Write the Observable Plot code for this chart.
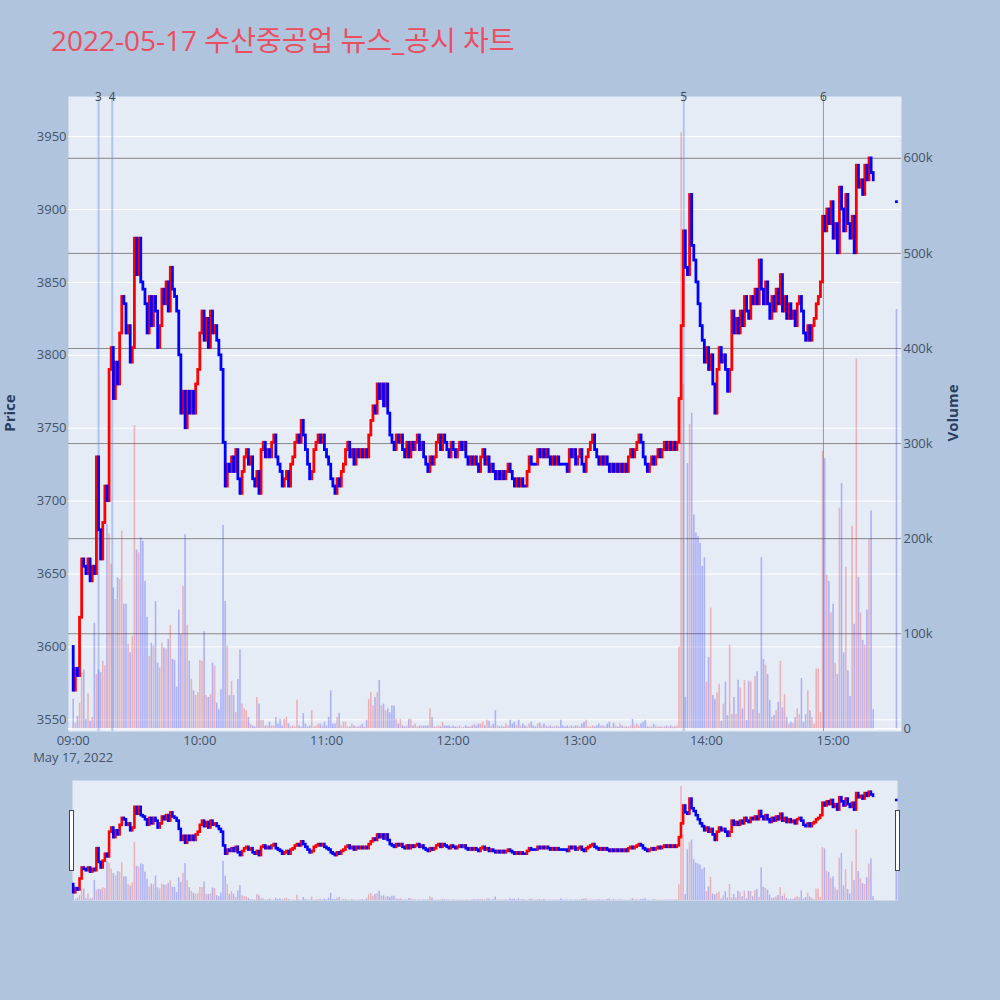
<!DOCTYPE html>
<html>
<head>
<meta charset="utf-8">
<script src="https://cdn.jsdelivr.net/npm/d3@7"></script>
<script src="https://cdn.jsdelivr.net/npm/@observablehq/plot@0.6"></script>
<style>
  html, body { margin: 0; padding: 0; background: #b0c4de; }
  #wrap { position: relative; width: 1000px; height: 1000px; overflow: hidden; background: #b0c4de;
          font-family: "Open Sans", "Noto Sans CJK KR", sans-serif; }
  .layer { position: absolute; left: 0; top: 0; overflow: visible; }
  .handle { position: absolute; width: 3px; height: 59px; background: #fff; border: 1px solid #444; }
</style>
</head>
<body>
<div id="wrap"></div>
<script>
// ---------------- DATA ----------------
const chartTitle = "2022-05-17 수산중공업 뉴스_공시 차트";
const dateLabel = "May 17, 2022";
const sessionStart = "09:00";            // first one-minute candle
const firstOpen = 3600;                  // open of the 09:00 candle

// one-minute closing prices from 09:00 to 15:19
const closes = [
  3570,3585,3580,3620,3660,3655,3650,3660,3645,3655,
  3650,3730,3680,3660,3685,3710,3700,3790,3805,3770,
  3795,3780,3815,3840,3835,3815,3820,3795,3805,3880,
  3855,3880,3850,3845,3835,3815,3840,3820,3840,3830,
  3805,3820,3845,3835,3850,3830,3860,3845,3840,3830,
  3800,3760,3775,3750,3775,3760,3775,3760,3780,3790,
  3815,3830,3810,3825,3805,3830,3815,3820,3810,3800,
  3790,3740,3710,3725,3720,3730,3720,3735,3715,3705,
  3720,3730,3735,3725,3730,3715,3710,3720,3705,3735,
  3740,3730,3735,3730,3740,3745,3730,3725,3720,3710,
  3715,3720,3710,3725,3730,3740,3745,3740,3755,3745,
  3735,3725,3715,3720,3735,3740,3745,3740,3745,3735,
  3730,3725,3715,3710,3705,3715,3710,3720,3725,3735,
  3740,3730,3735,3725,3735,3730,3735,3730,3735,3730,
  3745,3755,3765,3760,3780,3770,3780,3765,3780,3760,
  3745,3740,3735,3745,3740,3745,3735,3730,3740,3730,
  3740,3735,3740,3745,3735,3740,3730,3725,3720,3730,
  3725,3730,3740,3745,3735,3745,3740,3735,3730,3740,
  3735,3730,3735,3740,3735,3740,3730,3725,3730,3725,
  3730,3725,3720,3730,3735,3725,3730,3720,3725,3720,
  3715,3720,3715,3720,3715,3720,3725,3720,3715,3710,
  3715,3710,3715,3710,3710,3720,3730,3725,3725,3725,
  3735,3730,3735,3730,3735,3730,3725,3730,3725,3730,
  3725,3725,3725,3725,3720,3735,3730,3735,3725,3730,
  3735,3725,3720,3730,3735,3740,3745,3735,3730,3725,
  3730,3725,3730,3725,3720,3725,3720,3725,3720,3725,
  3720,3725,3720,3730,3735,3730,3735,3740,3745,3740,
  3730,3725,3720,3725,3730,3725,3730,3735,3730,3735,
  3740,3735,3740,3735,3740,3735,3740,3770,3820,3885,
  3860,3855,3910,3875,3865,3850,3835,3820,3810,3795,
  3805,3790,3800,3780,3760,3790,3805,3795,3800,3790,
  3775,3790,3830,3815,3825,3815,3830,3820,3840,3830,
  3825,3840,3835,3845,3835,3865,3845,3835,3850,3835,
  3825,3840,3830,3845,3835,3855,3830,3840,3825,3835,
  3825,3830,3820,3835,3840,3830,3815,3810,3820,3810,
  3820,3825,3835,3840,3850,3895,3885,3900,3890,3905,
  3880,3890,3870,3915,3900,3885,3910,3890,3880,3895,
  3870,3930,3915,3920,3910,3930,3920,3935,3925,3920
];

// one-minute volume, thousands of shares
const volumes = [
  31,6,13,27,59,62,10,37,8,12,
  111,57,62,59,71,66,215,205,173,148,
  136,159,157,208,131,131,89,80,97,319,
  188,185,201,197,155,117,76,90,87,134,
  69,64,90,85,84,94,109,73,72,44,
  125,99,150,204,109,71,52,40,35,38,
  72,71,102,35,33,36,69,66,27,20,
  41,214,134,87,35,50,35,17,52,83,
  26,21,19,12,5,3,2,33,26,9,
  9,3,3,7,3,3,12,5,10,3,
  10,12,5,2,3,2,30,3,2,16,
  5,2,3,19,2,3,5,5,3,7,
  3,12,40,5,5,12,16,3,7,7,
  2,2,5,3,2,2,3,5,2,9,
  31,38,24,33,38,51,24,26,19,21,
  17,24,24,10,5,10,3,2,3,10,
  10,3,5,2,3,3,3,3,3,21,
  12,2,2,3,2,7,3,3,3,2,
  3,2,2,3,1,2,3,2,2,3,
  5,3,5,5,7,3,9,8,3,5,
  19,3,2,3,2,5,3,9,5,7,
  3,9,3,5,3,2,5,7,3,2,
  5,6,3,5,3,2,3,2,2,3,
  2,9,3,2,3,2,3,2,3,3,
  2,5,7,9,2,2,3,2,3,5,
  3,3,2,5,7,2,6,3,2,5,
  3,2,2,2,3,10,3,5,3,5,
  7,9,2,2,2,5,3,2,2,2,
  2,3,2,3,2,2,3,86,627,362,
  33,279,320,332,225,206,202,195,171,180,
  49,75,127,35,31,38,47,8,26,49,
  14,88,15,33,15,51,43,21,51,9,
  50,49,20,55,60,16,180,73,67,57,
  30,12,14,19,28,71,22,36,12,5,
  7,6,12,21,15,53,7,15,40,19,
  12,5,63,63,17,292,284,162,155,122,
  131,69,57,232,258,80,170,61,34,213,
  110,389,159,122,93,88,125,199,229,20
];

// closing single-price auction
const auctionTime = "15:30";
const auctionPrice = 3905;
const auctionVolume = 441;

// news / disclosure markers
const newsLabels = ["3", "4", "5", "6"];
const newsTimes  = ["09:12", "09:18:30", "13:49:15", "14:55:25"];
const newsKinds  = ["news", "news", "news", "disclosure"];

// axis ticks
const priceTicks = [3550, 3600, 3650, 3700, 3750, 3800, 3850, 3900, 3950];
const volumeTicks = [0, 100, 200, 300, 400, 500, 600];
const timeTickLabels = ["09:00", "10:00", "11:00", "12:00", "13:00", "14:00", "15:00"];

// ---------------- BUILD ----------------
const parseTime = s => {
  const [h, m, sec] = s.split(":").map(Number);
  return new Date(2022, 4, 17, h, m, sec || 0);
};
const t0 = parseTime(sessionStart);
const atMinute = m => new Date(+t0 + m * 60000);

const candles = closes.map((c, i) => ({
  t: atMinute(i), open: i === 0 ? firstOpen : closes[i - 1], close: c, vol: volumes[i]
}));
candles.push({ t: parseTime(auctionTime), open: auctionPrice, close: auctionPrice, vol: auctionVolume });
candles.forEach(d => d.up = d.close > d.open);
const ups = candles.filter(d => d.up);
const downs = candles.filter(d => !d.up);

const news = newsLabels.map((l, i) => ({ label: l, t: parseTime(newsTimes[i]), kind: newsKinds[i] }));
const timeTicks = timeTickLabels.map(parseTime);

const RED = "#ff0000", BLUE = "#0000ff";
const AXIS = "#44546a";
const FONT = "'Open Sans', 'Noto Sans CJK KR', sans-serif";

const W = 1000;
const main = { left: 68, right: 99, top: 96, bottom: 40, height: 771 };
const xMain = [atMinute(-2.23), atMinute(392.4)];
const priceDomain = [3542, 3977.5];
const volDomainMain = [-2.8, 665];
const style = { background: "transparent", fontFamily: FONT, fontSize: "13px", color: AXIS, overflow: "visible" };

const wrap = document.getElementById("wrap");
function add(el, top) {
  el.classList.add("layer");
  if (top) el.style.top = top + "px";
  wrap.appendChild(el);
}

// Layer 1: background, price gridlines, price axis
add(Plot.plot({
  width: W, height: main.height,
  marginLeft: main.left, marginRight: main.right, marginTop: main.top, marginBottom: main.bottom,
  style,
  x: { domain: xMain, axis: null },
  y: { domain: priceDomain, axis: null },
  marks: [
    Plot.frame({ fill: "#e5ecf6", stroke: null }),
    Plot.gridY(priceTicks, { stroke: "#ffffff", strokeOpacity: 1, strokeWidth: 1 }),
    Plot.axisY(priceTicks, { anchor: "left", tickSize: 0, tickPadding: 2, label: null, fontSize: 13,
      tickFormat: d => String(d) })
  ]
}));

// Layer 2: volume gridlines, volume bars, volume axis
const kfmt = d => d === 0 ? "0" : d + "k";
add(Plot.plot({
  width: W, height: main.height,
  marginLeft: main.left, marginRight: main.right, marginTop: main.top, marginBottom: main.bottom,
  style,
  x: { domain: xMain, axis: null },
  y: { domain: volDomainMain, axis: null },
  marks: [
    Plot.gridY(volumeTicks.filter(v => v > 0), { stroke: "#888888", strokeOpacity: 1, strokeWidth: 1 }),
    Plot.ruleY([0], { stroke: "#ffffff", strokeWidth: 1.5 }),
    Plot.ruleX(ups,   { x: "t", y1: 0, y2: "vol", stroke: RED,  strokeOpacity: 0.25, strokeWidth: 1.6 }),
    Plot.ruleX(downs, { x: "t", y1: 0, y2: "vol", stroke: BLUE, strokeOpacity: 0.25, strokeWidth: 1.6 }),
    Plot.axisY(volumeTicks, { anchor: "right", tickSize: 0, tickPadding: 2, label: null, tickFormat: kfmt, fontSize: 13 })
  ]
}));

// Layer 3: news markers, candles, time axis
const newsStroke = k => k === "news" ? "rgba(100,140,235,0.42)" : "rgba(70,110,220,0.65)";
add(Plot.plot({
  width: W, height: main.height,
  marginLeft: main.left, marginRight: main.right, marginTop: main.top, marginBottom: main.bottom,
  style,
  x: { domain: xMain, axis: null },
  y: { domain: priceDomain, axis: null },
  marks: [
    Plot.ruleX(news.filter(d => d.kind === "news"), { x: "t", stroke: newsStroke("news"), strokeWidth: 2 }),
    Plot.ruleX(news.filter(d => d.kind !== "news"), { x: "t", stroke: newsStroke("disclosure"), strokeWidth: 1 }),
    Plot.ruleX(ups,   { x: "t", y1: "open", y2: "close", stroke: RED,  strokeWidth: 2.8, strokeLinecap: "square" }),
    Plot.ruleX(downs, { x: "t", y1: "open", y2: "close", stroke: BLUE, strokeWidth: 2.8, strokeLinecap: "square" }),
    Plot.text(news, { x: "t", text: "label", frameAnchor: "top", lineAnchor: "middle", dy: 1, fontSize: 12, fill: "#444444" }),
    Plot.axisX(timeTicks, {
      anchor: "bottom", tickSize: 0, tickPadding: 4, label: null, fontSize: 13,
      tickFormat: d => d3.timeFormat("%H:%M")(d)
    }),
    Plot.text([dateLabel], { x: timeTicks[0], text: d => d, frameAnchor: "bottom", lineAnchor: "top",
      dy: 21, fontSize: 13, fill: AXIS })
  ]
}));

// Range slider
const slider = { top: 780, height: 120, left: 72, right: 103 };
const xSlider = [atMinute(-0.33), atMinute(390.6)];
add(Plot.plot({
  width: W, height: slider.height,
  marginLeft: slider.left, marginRight: slider.right, marginTop: 0, marginBottom: 0,
  style,
  x: { domain: xSlider, axis: null },
  y: { domain: [0, 660], axis: null },
  marks: [
    Plot.frame({ fill: "#e5ecf6", stroke: null }),
    Plot.ruleX(ups,   { x: "t", y1: 0, y2: "vol", stroke: RED,  strokeOpacity: 0.25, strokeWidth: 1.5 }),
    Plot.ruleX(downs, { x: "t", y1: 0, y2: "vol", stroke: BLUE, strokeOpacity: 0.25, strokeWidth: 1.5 })
  ]
}), slider.top);
add(Plot.plot({
  width: W, height: slider.height,
  marginLeft: slider.left, marginRight: slider.right, marginTop: 0, marginBottom: 0,
  style,
  x: { domain: xSlider, axis: null },
  y: { domain: priceDomain, axis: null },
  marks: [
    Plot.ruleX(ups,   { x: "t", y1: "open", y2: "close", stroke: RED,  strokeWidth: 2.6, strokeLinecap: "square" }),
    Plot.ruleX(downs, { x: "t", y1: "open", y2: "close", stroke: BLUE, strokeWidth: 2.6, strokeLinecap: "square" })
  ]
}), slider.top);

// slider handles
[69, 895].forEach(x => {
  const h = document.createElement("div");
  h.className = "handle";
  h.style.left = x + "px";
  h.style.top = "810px";
  wrap.appendChild(h);
});

// Title and axis titles
const ns = "http://www.w3.org/2000/svg";
const ov = document.createElementNS(ns, "svg");
ov.setAttribute("width", W); ov.setAttribute("height", 1000);
ov.setAttribute("class", "layer");
ov.style.pointerEvents = "none";
function svgText(str, attrs) {
  const t = document.createElementNS(ns, "text");
  for (const k in attrs) t.setAttribute(k, attrs[k]);
  t.textContent = str;
  ov.appendChild(t);
  return t;
}
svgText(chartTitle, { x: 51, y: 51, fill: "#e94f60", "font-size": 28, "font-family": FONT });
svgText("Price", { transform: "translate(15,413) rotate(-90)", "text-anchor": "middle", fill: "#2a3f5f",
  "font-size": 15, "font-weight": "bold", "font-family": FONT });
svgText("Volume", { transform: "translate(958,413) rotate(-90)", "text-anchor": "middle", fill: "#2a3f5f",
  "font-size": 15, "font-weight": "bold", "font-family": FONT });
wrap.appendChild(ov);
</script>
</body>
</html>
